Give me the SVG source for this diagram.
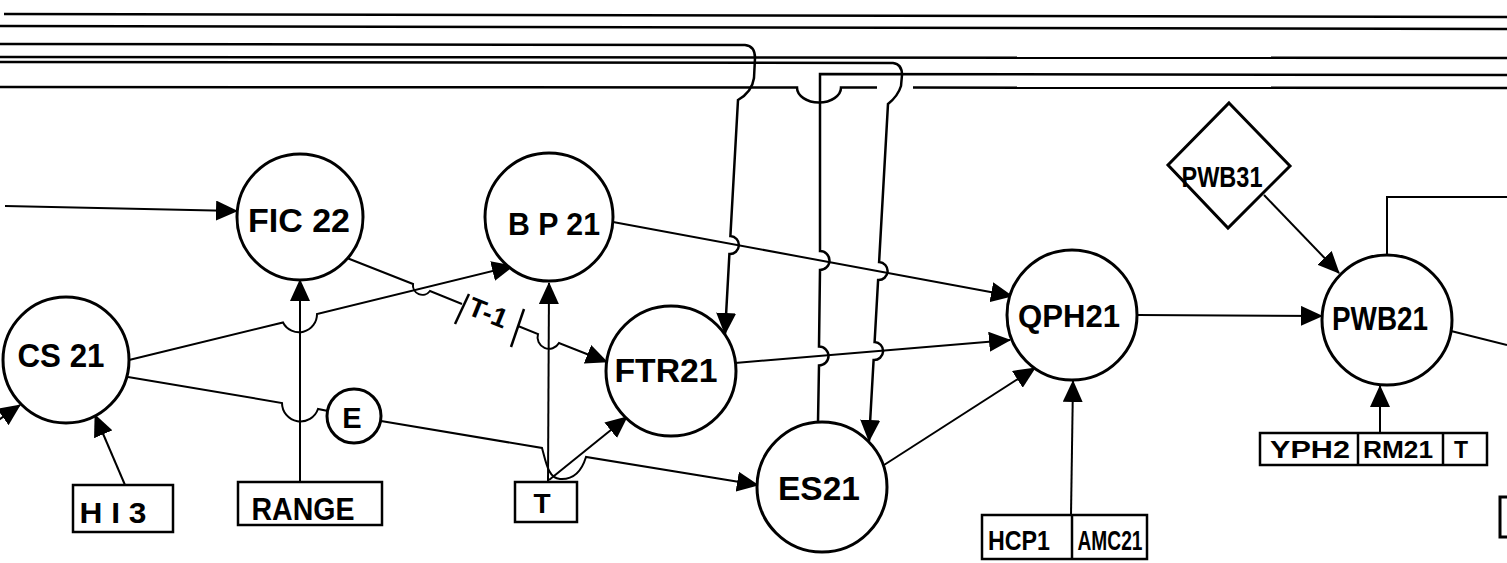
<svg xmlns="http://www.w3.org/2000/svg" width="1507" height="563" viewBox="0 0 1507 563">
<style>
.nd{fill:#fff;stroke:#000;stroke-width:3}
.bx{fill:#fff;stroke:#000;stroke-width:2.5}
.dv{stroke:#000;stroke-width:2.5}
.c{fill:none;stroke:#000;stroke-width:2}
.ca{fill:none;stroke:#000;stroke-width:2;marker-end:url(#ah)}
.bus{fill:none;stroke:#000;stroke-width:2.5}
.t{font-family:"Liberation Sans",Arial,sans-serif;font-weight:bold;fill:#000;text-anchor:middle}
</style>
<defs>
<marker id="ah" viewBox="0 0 22 20" refX="21" refY="10" markerWidth="22" markerHeight="20" markerUnits="userSpaceOnUse" orient="auto">
<path d="M0,0 L22,10 L0,20 z" fill="#000"/>
</marker>
</defs>
<rect width="1507" height="563" fill="#fff"/>
<g id="connectors">
<path class="bus" d="M4 14 L1507 17"/>
<path class="bus" d="M0 26 L1507 29"/>
<path class="bus" d="M0 57 L1507 58"/>
<path class="bus" d="M0 87 L797 87.5 A22 15 0 0 0 841 87.5 L877 87.6"/>
<path class="bus" d="M913 87.6 L1507 88"/>
<path class="ca" style="stroke-width:2.5" d="M0 44 L745 45 Q755 46 755 58 L754 78 Q752 92 738 100 L730.4 236 A9 9 0 0 1 729.4 254 L725 334"/>
<path class="ca" style="stroke-width:2.5" d="M0 62 L893 63 Q902 64 902 75 L901 86 Q898 96 888 104 L879.1 262 A9 9 0 0 1 878.1 280 L874.6 342 A9 9 0 0 1 873.6 360 L869 441"/>
<path class="c" style="stroke-width:2.5" d="M1507 75 L820 74 L820 251 A9.5 9.5 0 0 1 820 270 L819 346.5 A9.5 9.5 0 0 1 819 365.5 L818 422"/>
<path class="ca" d="M5 206 L237 211"/>
<path class="ca" d="M-20 433 L20 405"/>
<path class="ca" d="M129 360 L283 322.5 A18 18 0 0 0 317 314 L513 266"/>
<path class="c" d="M347 258 L413 284 A9.5 9.5 0 0 0 430 291 L462 304"/>
<path class="ca" d="M518 326 L538 334 A11.5 11.5 0 0 0 559 343 L607 362"/>
<line class="c" style="stroke-width:2.5" x1="455" y1="324" x2="469" y2="294"/>
<line class="c" style="stroke-width:2.5" x1="511" y1="347" x2="524" y2="309"/>
<path class="c" d="M128 377 L282 403 A18.5 18.5 0 0 0 318 409 L328 411"/>
<path class="ca" d="M381 421 L542 448 C546 462 548 478 560 479 C575 480 582 470 586 457 L758 485"/>
<path class="ca" d="M548 482 L549 283"/>
<path class="ca" d="M549 480 L627 417"/>
<path class="ca" d="M300 482 L300 280"/>
<path class="ca" d="M125 485 L95 415"/>
<path class="ca" d="M613 222 L1012 296"/>
<path class="ca" d="M735 363 L1010 340"/>
<path class="ca" d="M884 465 L1035 368"/>
<path class="ca" d="M1071 515 L1073 381"/>
<path class="ca" d="M1137 315 L1322 316"/>
<path class="ca" d="M1264 195 L1339 273"/>
<path class="ca" d="M1380 433 L1380 386"/>
<path class="c" d="M1387 255 L1387 197 L1507 197"/>
<path class="c" d="M1451 331 L1507 345"/>
</g>
<text class="t" style="font-size:27px" transform="translate(488,313) rotate(22)" y="9" textLength="40" lengthAdjust="spacingAndGlyphs">T-1</text>
<g id="FIC22">
<circle class="nd" cx="300" cy="217" r="63"/>
<text class="t" x="299" y="232" style="font-size:33px" textLength="102" lengthAdjust="spacingAndGlyphs">FIC 22</text>
</g>
<g id="CS21">
<circle class="nd" cx="66" cy="360" r="63"/>
<text class="t" x="61" y="367" style="font-size:33px" textLength="87" lengthAdjust="spacingAndGlyphs">CS 21</text>
</g>
<g id="E">
<circle class="nd" cx="354" cy="416" r="27"/>
<text class="t" x="352" y="428" style="font-size:29px">E</text>
</g>
<g id="BP21">
<circle class="nd" cx="549" cy="217" r="64"/>
<text class="t" x="554" y="235" style="font-size:32px" textLength="92" lengthAdjust="spacingAndGlyphs">B P 21</text>
</g>
<g id="FTR21">
<circle class="nd" cx="671" cy="371" r="65"/>
<text class="t" x="666" y="382" style="font-size:33px" textLength="103" lengthAdjust="spacingAndGlyphs">FTR21</text>
</g>
<g id="ES21">
<circle class="nd" cx="822" cy="487" r="65"/>
<text class="t" x="819" y="500" style="font-size:34px" textLength="82" lengthAdjust="spacingAndGlyphs">ES21</text>
</g>
<g id="QPH21">
<circle class="nd" cx="1072" cy="315" r="65"/>
<text class="t" x="1069" y="327" style="font-size:31px" textLength="102" lengthAdjust="spacingAndGlyphs">QPH21</text>
</g>
<g id="PWB21">
<circle class="nd" cx="1387" cy="320" r="65"/>
<text class="t" x="1380" y="330" style="font-size:33px" textLength="96" lengthAdjust="spacingAndGlyphs">PWB21</text>
</g>
<g id="PWB31">
<polygon class="nd" points="1229,103 1290,166 1228,228 1168,165"/>
<text class="t" x="1222" y="187" style="font-size:29px" textLength="81" lengthAdjust="spacingAndGlyphs">PWB31</text>
</g>
<g id="H13">
<rect class="bx" x="73" y="485" width="100" height="47"/>
<text class="t" x="113" y="523" style="font-size:29px" textLength="67" lengthAdjust="spacingAndGlyphs">H I 3</text>
</g>
<g id="RANGE">
<rect class="bx" x="238" y="482" width="144" height="43"/>
<text class="t" x="303" y="520" style="font-size:31px" textLength="103" lengthAdjust="spacingAndGlyphs">RANGE</text>
</g>
<g id="T">
<rect class="bx" x="515" y="482" width="62" height="40"/>
<text class="t" x="542" y="513" style="font-size:28px">T</text>
</g>
<g id="HCP1_AMC21">
<rect class="bx" x="982" y="515" width="165" height="44"/>
<line class="dv" x1="1072" y1="515" x2="1072" y2="559"/>
<text class="t" x="1019" y="550" style="font-size:28px" textLength="62" lengthAdjust="spacingAndGlyphs">HCP1</text>
<text class="t" x="1110" y="550" style="font-size:28px" textLength="65" lengthAdjust="spacingAndGlyphs">AMC21</text>
</g>
<g id="YPH2_RM21_T">
<rect class="bx" x="1260" y="433" width="227" height="32"/>
<line class="dv" x1="1358" y1="433" x2="1358" y2="465"/>
<line class="dv" x1="1443" y1="433" x2="1443" y2="465"/>
<text class="t" x="1310" y="458" style="font-size:23px" textLength="80" lengthAdjust="spacingAndGlyphs">YPH2</text>
<text class="t" x="1398" y="458" style="font-size:23px" textLength="70" lengthAdjust="spacingAndGlyphs">RM21</text>
<text class="t" x="1461" y="458" style="font-size:23px">T</text>
</g>
<g id="edge_box">
<rect class="bx" style="stroke-width:3" x="1500" y="497" width="40" height="40"/>
</g>
</svg>
